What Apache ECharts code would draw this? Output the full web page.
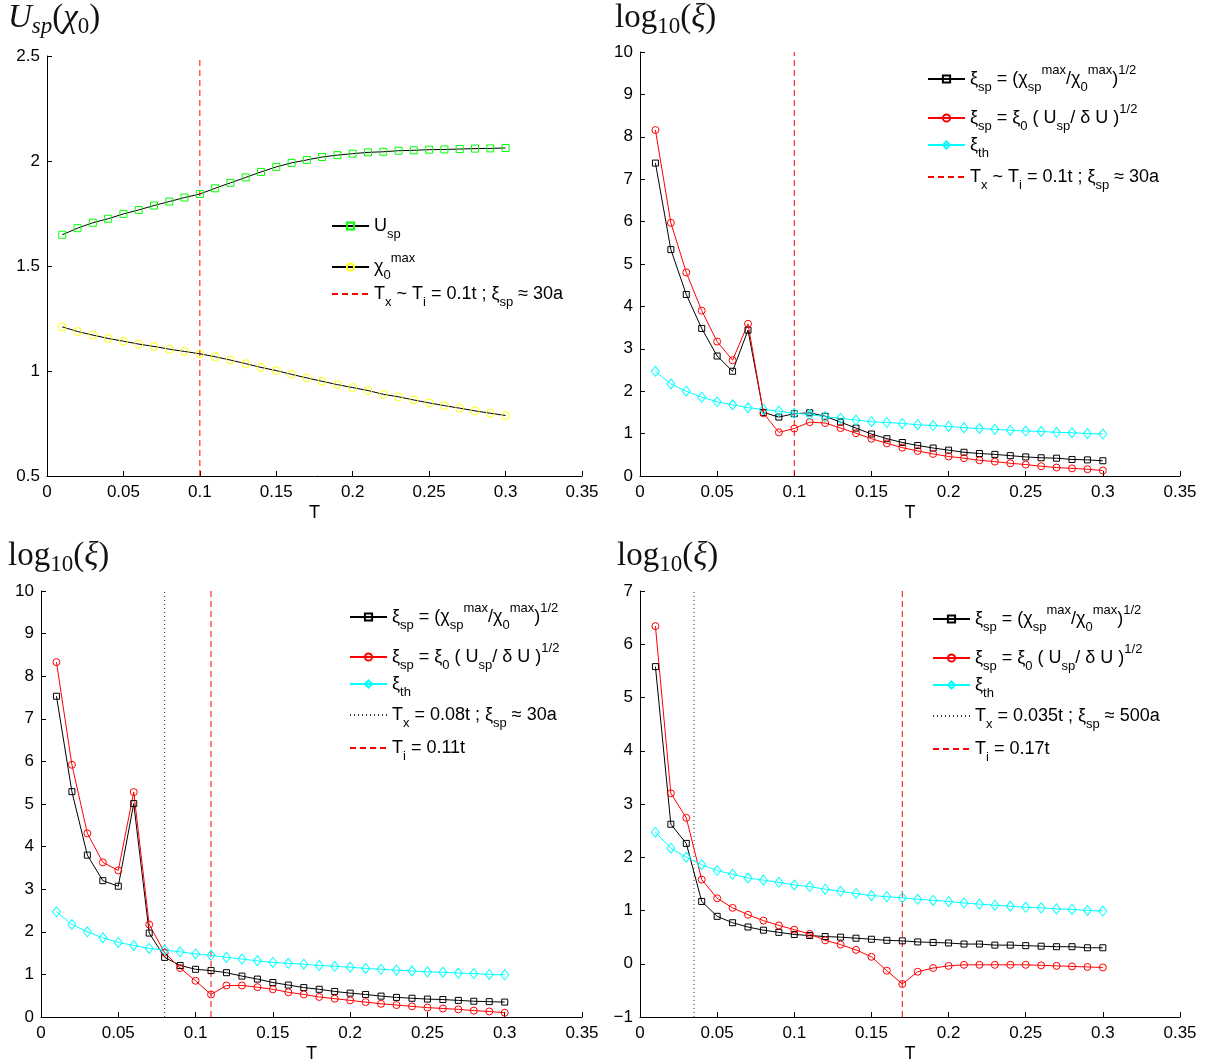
<!DOCTYPE html>
<html lang="en">
<head>
    <meta charset="UTF-8">
    <title>Usp / xi vs T</title>
    <script src="https://cdn.jsdelivr.net/npm/echarts@6/dist/echarts.min.js"></script>
</head>
<body style="margin:0;background:#fff">
    <div id="ec" style="width:1210px;height:1063px"></div>
</body>
<script>
    // temperatures
    var T = [0.01, 0.02, 0.03, 0.04, 0.05, 0.06, 0.07, 0.08, 0.09, 0.10,
             0.11, 0.12, 0.13, 0.14, 0.15, 0.16, 0.17, 0.18, 0.19, 0.20,
             0.21, 0.22, 0.23, 0.24, 0.25, 0.26, 0.27, 0.28, 0.29, 0.30]

    // top left panel
    var uSp = [1.649, 1.680, 1.706, 1.725, 1.748, 1.767, 1.788, 1.807, 1.826, 1.843,
               1.870, 1.896, 1.922, 1.948, 1.972, 1.991, 2.005, 2.019, 2.028, 2.035,
               2.041, 2.044, 2.049, 2.051, 2.054, 2.055, 2.057, 2.059, 2.060, 2.062]
    var chi0 = [1.210, 1.188, 1.171, 1.155, 1.142, 1.128, 1.117, 1.104, 1.093, 1.082,
                1.068, 1.052, 1.035, 1.017, 1.002, 0.984, 0.967, 0.951, 0.935, 0.921,
                0.907, 0.889, 0.877, 0.862, 0.848, 0.835, 0.823, 0.810, 0.799, 0.788]

    // xi_th is the same curve in the three log panels
    var xiTh = [2.47, 2.17, 2.00, 1.86, 1.75, 1.68, 1.61, 1.57, 1.53, 1.48,
                1.45, 1.40, 1.36, 1.32, 1.28, 1.26, 1.24, 1.21, 1.19, 1.17,
                1.14, 1.12, 1.10, 1.08, 1.06, 1.05, 1.03, 1.02, 1.00, 0.99]

    // top right panel
    var xiChiA = [7.38, 5.34, 4.28, 3.48, 2.83, 2.47, 3.44, 1.50, 1.39, 1.47,
                  1.49, 1.41, 1.27, 1.13, 0.99, 0.88, 0.79, 0.72, 0.66, 0.61,
                  0.56, 0.53, 0.51, 0.48, 0.45, 0.43, 0.42, 0.39, 0.38, 0.36]
    var xiUA = [8.16, 5.97, 4.80, 3.90, 3.17, 2.73, 3.59, 1.48, 1.03, 1.12,
                1.27, 1.25, 1.13, 1.01, 0.88, 0.77, 0.67, 0.59, 0.52, 0.46,
                0.42, 0.37, 0.34, 0.30, 0.27, 0.23, 0.20, 0.18, 0.16, 0.13]

    // bottom left panel
    var xiChiB = [7.53, 5.29, 3.80, 3.20, 3.07, 5.01, 1.97, 1.40, 1.21, 1.12,
                  1.09, 1.04, 0.96, 0.89, 0.81, 0.75, 0.69, 0.65, 0.60, 0.56,
                  0.53, 0.49, 0.46, 0.44, 0.42, 0.41, 0.39, 0.37, 0.36, 0.35]
    var xiUB = [8.33, 5.92, 4.31, 3.63, 3.44, 5.28, 2.17, 1.51, 1.15, 0.85,
                0.53, 0.74, 0.74, 0.70, 0.65, 0.58, 0.53, 0.47, 0.43, 0.39,
                0.35, 0.31, 0.28, 0.25, 0.22, 0.20, 0.18, 0.15, 0.13, 0.10]

    // bottom right panel
    var xiChiC = [5.58, 2.62, 2.26, 1.17, 0.89, 0.77, 0.69, 0.63, 0.59, 0.55,
                  0.53, 0.51, 0.50, 0.48, 0.46, 0.44, 0.43, 0.41, 0.40, 0.39,
                  0.37, 0.37, 0.35, 0.35, 0.34, 0.33, 0.32, 0.32, 0.30, 0.30]
    var xiUC = [6.34, 3.20, 2.74, 1.58, 1.23, 1.05, 0.92, 0.81, 0.72, 0.64,
                0.56, 0.44, 0.36, 0.26, 0.13, -0.13, -0.38, -0.15, -0.08, -0.04,
                -0.02, -0.02, -0.02, -0.02, -0.02, -0.03, -0.04, -0.05, -0.06, -0.07]

    // vertical marker temperatures
    var tA = 0.1, tB = [0.08, 0.11], tC = [0.035, 0.17]

    // y ranges [min, max, interval]
    var yRanges = [[0.5, 2.5, 0.5], [0, 10, 1], [0, 10, 1], [-1, 7, 1]]

    var names = {
        usp: 'Usp',
        chi0: 'χ0max',
        chi: 'ξsp = (χsp max/χ0 max)1/2',
        u: 'ξsp = ξ0 ( Usp/ δ U )1/2',
        th: 'ξth',
        lineA: 'Tx ~ Ti = 0.1t ; ξsp ≈ 30a',
        dotB: 'Tx = 0.08t ; ξsp ≈ 30a',
        dashB: 'Ti = 0.11t',
        dotC: 'Tx = 0.035t ; ξsp ≈ 500a',
        dashC: 'Ti = 0.17t'
    }
    var richNames = {}
    richNames[names.usp] = '{m|U}{b|sp}'
    richNames[names.chi0] = '{m|χ}{b|0}{p|max}'
    richNames[names.chi] = '{m|ξ}{b|sp}{m| = (χ}{b|sp}{p|max}{m|/χ}{b|0}{p|max}{m|)}{p|1/2}'
    richNames[names.u] = '{m|ξ}{b|sp}{m| = ξ}{b|0}{m| ( U}{b|sp}{m|/ δ U )}{p|1/2}'
    richNames[names.th] = '{m|ξ}{b|th}'
    richNames[names.lineA] = '{m|T}{b|x}{m| ~ T}{b|i}{m| = 0.1t ; ξ}{b|sp}{m| ≈ 30a}'
    richNames[names.dotB] = '{m|T}{b|x}{m| = 0.08t ; ξ}{b|sp}{m| ≈ 30a}'
    richNames[names.dashB] = '{m|T}{b|i}{m| = 0.11t}'
    richNames[names.dotC] = '{m|T}{b|x}{m| = 0.035t ; ξ}{b|sp}{m| ≈ 500a}'
    richNames[names.dashC] = '{m|T}{b|i}{m| = 0.17t}'

    var sans = 'Liberation Sans'
    var serif = 'Liberation Serif'

    function pairs(vals) {
        return T.map(function (t, i) { return [t, vals[i]] })
    }

    var grids = [
        { left: 47, top: 56, width: 535, height: 420 },
        { left: 640, top: 52, width: 540, height: 424 },
        { left: 41, top: 591, width: 541, height: 426 },
        { left: 640, top: 591, width: 540, height: 426 }
    ]

    var xAxes = [], yAxes = []
    grids.forEach(function (g, i) {
        g.outerBoundsMode = 'none'
        g.containLabel = false
        xAxes.push({
            type: 'value', gridIndex: i, min: 0, max: 0.35, interval: 0.05,
            name: 'T', nameLocation: 'middle', nameGap: 28,
            nameTextStyle: { fontFamily: sans, fontSize: 18, color: '#000' },
            axisLine: { onZero: false, lineStyle: { color: '#000', width: 1 } },
            axisTick: { inside: true, length: 5, lineStyle: { color: '#000' } },
            axisLabel: { fontFamily: sans, fontSize: 17, color: '#000', margin: 8, showMinLabel: true, showMaxLabel: true },
            splitLine: { show: false }
        })
        var r = yRanges[i]
        yAxes.push({
            type: 'value', gridIndex: i, min: r[0], max: r[1], interval: r[2],
            axisLine: { show: true, onZero: false, lineStyle: { color: '#000', width: 1 } },
            axisTick: { show: true, inside: true, length: 5, lineStyle: { color: '#000' } },
            axisLabel: {
                fontFamily: sans, fontSize: 17, color: '#000', margin: 7, showMinLabel: true, showMaxLabel: true,
                formatter: function (v) { return String(v).replace('-', '\u2212') }
            },
            splitLine: { show: false }
        })
    })

    function dataLine(name, idx, vals, lineColor, symbol, symColor, size) {
        return {
            name: name, type: 'line', xAxisIndex: idx, yAxisIndex: idx,
            data: pairs(vals), symbol: symbol, symbolSize: size, showSymbol: true,
            lineStyle: { color: lineColor, width: 1 },
            itemStyle: { color: 'rgba(0,0,0,0)', borderColor: symColor, borderWidth: 1 },
            emphasis: { disabled: true }, z: 3
        }
    }

    function vLine(name, idx, t, color, dash) {
        var r = yRanges[idx]
        return {
            name: name, type: 'line', xAxisIndex: idx, yAxisIndex: idx,
            data: [[t, r[0]], [t, r[1]]], symbol: 'none',
            lineStyle: { color: color, width: 1, type: dash },
            itemStyle: { color: color },
            emphasis: { disabled: true }, z: 2
        }
    }

    var red = '#ff0000', cyan = '#00ffff'
    var series = [
        dataLine(names.usp, 0, uSp, '#000', 'rect', '#00ff00', 7),
        dataLine(names.chi0, 0, chi0, '#000', 'circle', '#ffff00', 8),
        vLine(names.lineA, 0, tA, red, [6, 4]),

        dataLine(names.chi, 1, xiChiA, '#000', 'rect', '#000', 6),
        dataLine(names.u, 1, xiUA, red, 'circle', red, 7),
        dataLine(names.th, 1, xiTh, cyan, 'diamond', cyan, [8, 10]),
        vLine(names.lineA, 1, tA, red, [6, 4]),

        dataLine(names.chi, 2, xiChiB, '#000', 'rect', '#000', 6),
        dataLine(names.u, 2, xiUB, red, 'circle', red, 7),
        dataLine(names.th, 2, xiTh, cyan, 'diamond', cyan, [8, 10]),
        vLine(names.dotB, 2, tB[0], '#333', [1, 3]),
        vLine(names.dashB, 2, tB[1], red, [6, 4]),

        dataLine(names.chi, 3, xiChiC, '#000', 'rect', '#000', 6),
        dataLine(names.u, 3, xiUC, red, 'circle', red, 7),
        dataLine(names.th, 3, xiTh, cyan, 'diamond', cyan, [8, 10]),
        vLine(names.dotC, 3, tC[0], '#333', [1, 3]),
        vLine(names.dashC, 3, tC[1], red, [6, 4])
    ]

    var legendRich = {
        m: { fontFamily: sans, fontSize: 18, color: '#000', lineHeight: 30 },
        b: { fontFamily: sans, fontSize: 13, color: '#000', verticalAlign: 'bottom', lineHeight: 15 },
        p: { fontFamily: sans, fontSize: 13, color: '#000', verticalAlign: 'top', lineHeight: 15 }
    }

    // one legend box per entry so rows sit where the reference has them
    function legendAt(name, left, lineY, noMarker) {
        var lg = {
            data: [name], orient: 'vertical', left: left, top: lineY - 15,
            itemWidth: 37, itemHeight: 9, padding: 0, selectedMode: false,
            formatter: function (n) { return richNames[n] },
            textStyle: { rich: legendRich }
        }
        if (noMarker) lg.itemStyle = { opacity: 0 }
        return lg
    }

    var legends = [
        legendAt(names.usp, 331, 232),
        legendAt(names.chi0, 331, 267),
        legendAt(names.lineA, 331, 300, true),

        legendAt(names.chi, 927, 79),
        legendAt(names.u, 927, 118),
        legendAt(names.th, 927, 151),
        legendAt(names.lineA, 927, 183, true),

        legendAt(names.chi, 349, 617),
        legendAt(names.u, 349, 657),
        legendAt(names.th, 349, 690),
        legendAt(names.dotB, 349, 721, true),
        legendAt(names.dashB, 349, 754, true),

        legendAt(names.chi, 932, 619),
        legendAt(names.u, 932, 658),
        legendAt(names.th, 932, 691),
        legendAt(names.dotC, 932, 722, true),
        legendAt(names.dashC, 932, 755, true)
    ]

    var titleRich = {
        i: { fontFamily: serif, fontStyle: 'italic', fontWeight: 'normal', fontSize: 33, color: '#111', lineHeight: 40 },
        n: { fontFamily: serif, fontWeight: 'normal', fontSize: 33, color: '#111', lineHeight: 40 },
        s: { fontFamily: serif, fontStyle: 'italic', fontWeight: 'normal', fontSize: 23, color: '#111', verticalAlign: 'bottom', lineHeight: 26 },
        s0: { fontFamily: serif, fontWeight: 'normal', fontSize: 23, color: '#111', verticalAlign: 'bottom', lineHeight: 26 }
    }
    var uTitle = '{i|U}{s|sp}{n|(}{i|χ}{s0|0}{n|)}'
    var logTitle = '{n|log}{s0|10}{n|(}{i|ξ}{n|)}'
    function titleAt(text, left, top) {
        return { text: text, left: left, top: top, padding: 0, textStyle: { fontWeight: 'normal', rich: titleRich } }
    }

    var ech = document.getElementById("ec")
    var mychart = echarts.init(ech)
    var options = {
        backgroundColor: '#fff',
        animation: false,
        title: [
            titleAt(uTitle, 8, -2),
            titleAt(logTitle, 615, -2),
            titleAt(logTitle, 8, 536),
            titleAt(logTitle, 617, 536)
        ],
        grid: grids,
        xAxis: xAxes,
        yAxis: yAxes,
        legend: legends,
        series: series
    }
    mychart.setOption(options)
</script>
</html>
